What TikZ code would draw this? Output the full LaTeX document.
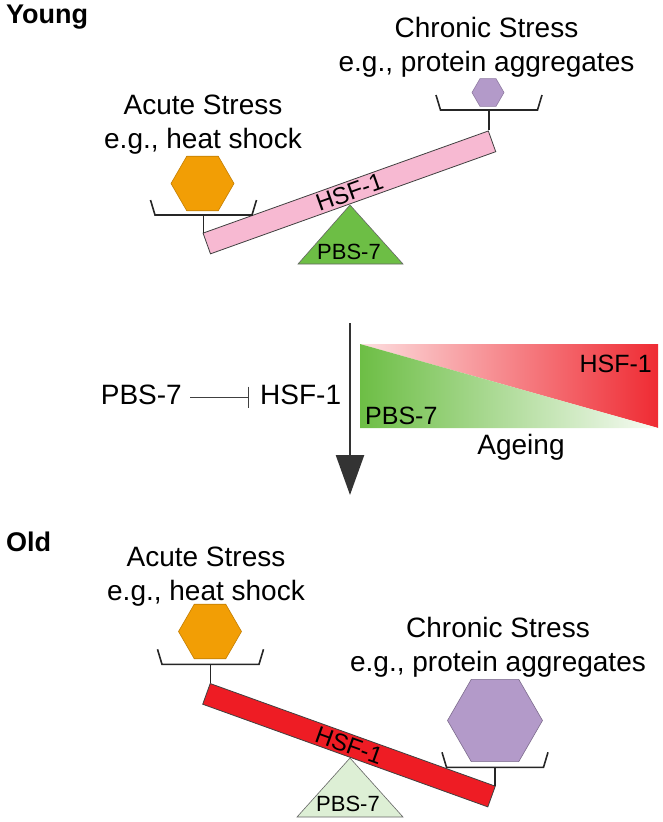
\documentclass[tikz,border=0pt]{standalone}
\usepackage{fontspec}
\setmainfont{Liberation Sans}
\usetikzlibrary{arrows.meta,positioning,calc,shapes.geometric}
\definecolor{acuteorange}{HTML}{F29E05}
\definecolor{chronicviolet}{HTML}{B39AC9}
\definecolor{beampink}{HTML}{F7B9D2}
\definecolor{beamred}{HTML}{EE1C24}
\definecolor{pbsgreen}{HTML}{6DBE45}
\definecolor{pbspale}{HTML}{DDEFD5}
\definecolor{agered}{HTML}{EF2B33}

\begin{document}
\begin{tikzpicture}[
        x=1pt, y=-1pt,
        lbl/.style={font=\fontsize{28}{34}\selectfont, align=center, inner sep=0pt},
        ttl/.style={font=\fontsize{27}{32}\selectfont\bfseries, inner sep=0pt, anchor=base west},
        small/.style={font=\fontsize{22}{26}\selectfont, inner sep=0pt, anchor=base},
        mid/.style={font=\fontsize{25}{30}\selectfont, inner sep=0pt},
        hexa/.style={regular polygon, regular polygon sides=6, inner sep=0pt, line width=0.6pt},
        beam/.style={draw=black!75, line width=0.8pt, minimum width=303pt, minimum height=22pt,
                     inner sep=0pt, font=\fontsize{24}{28}\selectfont},
        pan/.style={draw=black!85, line width=1.6pt},
        fulcrum/.style={draw=black!60, line width=0.6pt},
        inh/.style={draw=black!75, line width=1pt, -{Bar[width=21pt, line width=1.2pt]}},
        agearrow/.style={draw=black!80, line width=2.5pt, -{Triangle[width=28pt, length=40pt]}},
    ]
        \useasboundingbox (0,0) rectangle (662,822);
        % Young: acute vs chronic load on the HSF-1 beam.
        \node[ttl] (young) at (6,23) {Young};
        \node[lbl, anchor=north] (chrY) at (486.5,17) {Chronic Stress\\e.g., protein aggregates};
        \node[lbl, anchor=north] (acY)  at (203,95)   {Acute Stress\\e.g., heat shock};
        \draw[fulcrum, fill=pbsgreen] (298,264) -- (350,205) -- (403,264) -- cycle;
        \node[small] (pbsY) at (349,259) {PBS-7};
        \node[beam, fill=beampink, rotate=19.7] (beamY) at (349.4,192.4) {HSF-1};
        \coordinate (panYL) at (203.5,215);
        \coordinate (panYR) at (489,110);
        \node[hexa, fill=acuteorange, draw=acuteorange!80!black, minimum size=63pt] (hexAY) at (202.5,183.5) {};
        \node[hexa, fill=chronicviolet, draw=chronicviolet!80!black, minimum size=32pt] (hexCY) at (488,92.5) {};
        % Ageing: PBS-7 falls, HSF-1 rises.
        \node[lbl, anchor=base east] (pbsInh) at (182,404) {PBS-7};
        \node[lbl, anchor=base west] (hsfInh) at (260,404) {HSF-1};
        \draw[inh] ([xshift=8pt, yshift=7pt]pbsInh.base east) -- ([xshift=-11pt, yshift=7pt]hsfInh.base west);
        \coordinate (agetop) at (350,323);
        \coordinate (agebot) at (350,495);
        \draw[agearrow] (agetop) -- (agebot);
        \coordinate (gTL) at (360,344);
        \coordinate (gBR) at (658,428);
        \shade[left color=agered!15!white, right color=agered] (gTL) -- (gBR |- gTL) -- (gBR) -- cycle;
        \shade[left color=pbsgreen, right color=pbsgreen!5!white] (gTL) -- (gTL |- gBR) -- (gBR) -- cycle;
        \node[mid, anchor=base east] (hsfAge) at (652,372) {HSF-1};
        \node[mid, anchor=base west] (pbsAge) at (365,424) {PBS-7};
        \node[lbl, anchor=base] (ageing) at (521,454) {Ageing};
        % Old: chronic load wins.
        \node[ttl] (old) at (6,551) {Old};
        \node[lbl, anchor=north] (acO)  at (206,547) {Acute Stress\\e.g., heat shock};
        \node[lbl, anchor=north] (chrO) at (498,617) {Chronic Stress\\e.g., protein aggregates};
        \draw[fulcrum, fill=pbspale] (297,817) -- (350,758) -- (403,817) -- cycle;
        \node[small] (pbsO) at (348,811.5) {PBS-7};
        \node[beam, fill=beamred, rotate=-19.8] (beamO) at (349,745.2) {HSF-1};
        \coordinate (panOL) at (210.5,664.3);
        \coordinate (panOR) at (495,767.3);
        \node[hexa, fill=acuteorange, draw=acuteorange!80!black, minimum size=63pt] (hexAO) at (210,631.5) {};
        \node[hexa, fill=chronicviolet, draw=chronicviolet!70!black, minimum size=95pt] (hexCO) at (495,720.5) {};
        % Pans and stems.
        \foreach \p/\b in {panYL/beamY.north west, panYR/beamY.north east,
                           panOL/beamO.north west, panOR/beamO.north east}{
            \draw[pan] ($(\p)+(-53,-15)$) -- ($(\p)+(-48.5,0)$) -- ($(\p)+(48.5,0)$) -- ($(\p)+(53,-15)$);
            \draw[pan] (\p) -- (\p |- \b);}
    \end{tikzpicture}
\end{document}
